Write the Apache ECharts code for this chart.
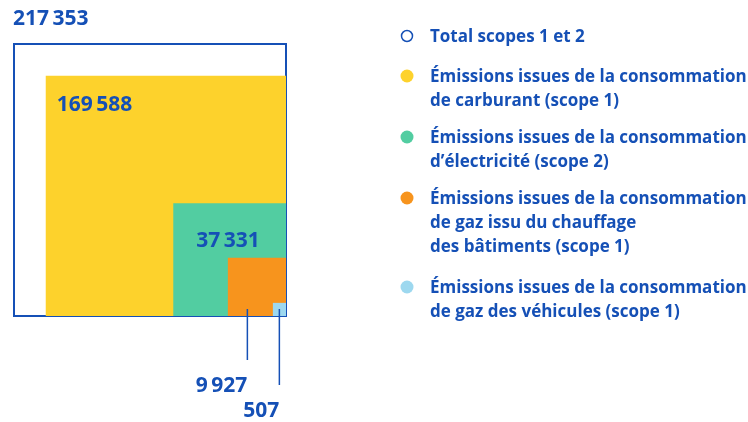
<!DOCTYPE html>
<html>
<head>
<meta charset="utf-8">
<script src="https://cdn.jsdelivr.net/npm/echarts@6/dist/echarts.min.js"></script>
<style>
  html, body { margin: 0; padding: 0; background: #fff; }
  #chart { width: 748px; height: 422px; }
</style>
</head>
<body>
<div id="chart"></div>
<script>
// données
const categories = [
  'Total scopes 1 et 2',
  'Émissions issues de la consommation\nde carburant (scope 1)',
  'Émissions issues de la consommation\nd’électricité (scope 2)',
  'Émissions issues de la consommation\nde gaz issu du chauffage\ndes bâtiments (scope 1)',
  'Émissions issues de la consommation\nde gaz des véhicules (scope 1)'
]
const values = [217353, 169588, 37331, 9927, 507]
const valueLabels = ['217\u2009353', '169\u2009588', '37\u2009331', '9\u2009927', '507']
const colors = ['#ffffff', '#fdd22c', '#52cda1', '#f7941d', '#9dd8ef']

const BLUE = '#1550b6'
const FONT = '"Open Sans", Lato, sans-serif'
const maxSide = Math.sqrt(values[0])

const chart = echarts.init(document.getElementById('chart'))

const renderItem = (params, api) => {
  const i = params.dataIndex
  const side = Math.sqrt(api.value(1))
  const p0 = api.coord([maxSide - side, side])
  const p1 = api.coord([maxSide, 0])
  const x = p0[0], y = p0[1], w = p1[0] - p0[0], h = p1[1] - p0[1]
  const children = [{
    type: 'rect',
    shape: { x: x, y: y, width: w, height: h },
    style: i === 0
      ? { fill: '#fff', stroke: BLUE, lineWidth: 2 }
      : { fill: colors[i] }
  }]
  const txt = (tx, ty, align) => ({
    type: 'text',
    z2: 10,
    style: {
      x: tx, y: ty, text: valueLabels[i], fill: BLUE,
      font: 'bold 21px ' + FONT, align: align || 'left', verticalAlign: 'middle'
    }
  })
  if (i === 0) children.push(txt(x - 1, y - 25))
  if (i === 1) children.push(txt(x + 11, y + 29))
  if (i === 2) children.push(txt(x + 23, y + 38))
  if (i === 3 || i === 4) {
    const lx = i === 3 ? x + 19.5 : x + 6.5
    const ly = i === 3 ? p1[1] + 44 : p1[1] + 69
    children.push({
      type: 'line', z2: 10,
      shape: { x1: lx, y1: p1[1] - 7, x2: lx, y2: ly },
      style: { stroke: BLUE, lineWidth: 1.5 }
    })
    children.push(txt(lx, ly + 26, 'right'))
  }
  return { type: 'group', children: children }
}

// légende
const legendTops = [36, 76, 137, 198, 287]
const legend = []
categories.forEach((name, i) => {
  legend.push({
    type: 'circle',
    shape: { cx: 407, cy: legendTops[i], r: i === 0 ? 5.5 : 6.5 },
    style: i === 0 ? { fill: '#fff', stroke: BLUE, lineWidth: 1.5 } : { fill: colors[i] }
  })
  legend.push({
    type: 'text',
    left: 430,
    top: legendTops[i] - 11,
    style: {
      text: name, fill: BLUE, font: 'bold 17px ' + FONT, lineHeight: 24
    }
  })
})

const option = {
  animation: false,
  grid: { left: 14, top: 44, width: 272, height: 272 },
  xAxis: { type: 'value', min: 0, max: maxSide, show: false },
  yAxis: { type: 'value', min: 0, max: maxSide, show: false },
  series: [{
    type: 'custom',
    renderItem: renderItem,
    data: values.map((v, i) => [i, v])
  }],
  graphic: legend
}

chart.setOption(option)
window.addEventListener('resize', () => chart.resize())
</script>
</body>
</html>
